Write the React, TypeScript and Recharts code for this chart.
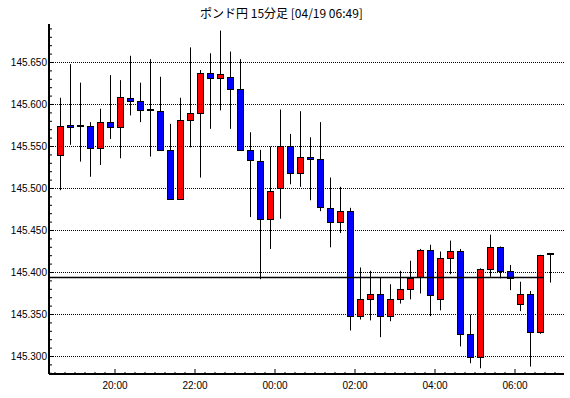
import React from "react";
import { ComposedChart, Bar, XAxis, YAxis, ReferenceLine } from "recharts";

// 15分足 18:30 - 06:45
const times = [
  "18:30", "18:45", "19:00", "19:15", "19:30", "19:45",
  "20:00", "20:15", "20:30", "20:45", "21:00", "21:15", "21:30", "21:45",
  "22:00", "22:15", "22:30", "22:45", "23:00", "23:15", "23:30", "23:45",
  "00:00", "00:15", "00:30", "00:45", "01:00", "01:15", "01:30", "01:45",
  "02:00", "02:15", "02:30", "02:45", "03:00", "03:15", "03:30", "03:45",
  "04:00", "04:15", "04:30", "04:45", "05:00", "05:15", "05:30", "05:45",
  "06:00", "06:15", "06:30", "06:45",
];

const opens = [
  145.540, 145.575, 145.574, 145.574, 145.548, 145.579, 145.573, 145.608, 145.604, 145.593,
  145.592, 145.546, 145.487, 145.581, 145.590, 145.638, 145.631, 145.633, 145.618, 145.546,
  145.533, 145.464, 145.500, 145.550, 145.518, 145.538, 145.535, 145.477, 145.460, 145.473,
  145.348, 145.368, 145.375, 145.348, 145.368, 145.380, 145.395, 145.427, 145.369, 145.417,
  145.426, 145.327, 145.299, 145.404, 145.430, 145.402, 145.362, 145.375, 145.329, 145.422,
];
const highs = [
  145.608, 145.648, 145.626, 145.579, 145.595, 145.635, 145.629, 145.658, 145.626, 145.654,
  145.633, 145.577, 145.608, 145.668, 145.641, 145.661, 145.688, 145.663, 145.654, 145.567,
  145.546, 145.550, 145.594, 145.565, 145.592, 145.561, 145.579, 145.513, 145.502, 145.477,
  145.406, 145.402, 145.394, 145.386, 145.402, 145.414, 145.428, 145.433, 145.425, 145.438,
  145.428, 145.350, 145.405, 145.445, 145.431, 145.409, 145.389, 145.378, 145.421, 145.423,
];
const lows = [
  145.498, 145.552, 145.532, 145.514, 145.528, 145.559, 145.536, 145.587, 145.579, 145.538,
  145.546, 145.487, 145.487, 145.549, 145.513, 145.571, 145.593, 145.571, 145.546, 145.466,
  145.392, 145.428, 145.464, 145.505, 145.502, 145.486, 145.473, 145.430, 145.447, 145.331,
  145.344, 145.343, 145.323, 145.342, 145.363, 145.368, 145.375, 145.348, 145.355, 145.398,
  145.312, 145.292, 145.286, 145.395, 145.393, 145.379, 145.354, 145.288, 145.327, 145.388,
];
const closes = [
  145.574, 145.573, 145.574, 145.548, 145.579, 145.573, 145.609, 145.604, 145.593, 145.593,
  145.546, 145.487, 145.581, 145.590, 145.638, 145.631, 145.636, 145.618, 145.546, 145.534,
  145.464, 145.497, 145.550, 145.518, 145.538, 145.535, 145.478, 145.460, 145.473, 145.348,
  145.368, 145.375, 145.348, 145.368, 145.380, 145.394, 145.427, 145.373, 145.417, 145.426,
  145.327, 145.299, 145.404, 145.430, 145.402, 145.394, 145.375, 145.329, 145.421, 145.422,
];

const majorYTicks = [145.3, 145.35, 145.4, 145.45, 145.5, 145.55, 145.6, 145.65];
const majorXLabels = ["20:00", "22:00", "00:00", "02:00", "04:00", "06:00"];

const refPrice = 145.394;
const refLineEnd = "06:43";

const START = 18 * 60 + 30;
const toMin = (s: string) => {
  const [h, m] = s.split(":").map(Number);
  return (h * 60 + m - START + 1440) % 1440;
};
const fmtMin = (m: number) => {
  const t = (START + m) % 1440;
  return `${String(Math.floor(t / 60)).padStart(2, "0")}:${String(t % 60).padStart(2, "0")}`;
};

const data = times.map((t, i) => ({
  t: toMin(t) + 7.5,
  open: opens[i],
  high: highs[i],
  low: lows[i],
  close: closes[i],
  range: [lows[i], highs[i]],
}));

const xDomain = [-9, 763.5];
const yDomain = [145.27917, 145.69583];
const xTicks = Array.from({ length: 51 }, (_, i) => i * 15);
const yTicks = Array.from({ length: 42 }, (_, i) => (14528 + i) / 100);
const majorXMins = majorXLabels.map(toMin);

const isMajorY = (v: number) => Math.round(v * 1000) % 50 === 0;
const FONT = "'Liberation Sans', Arial, sans-serif";

function Candle(props: any) {
  const { x, y, width, height, payload } = props;
  if (x == null || !payload) return null;
  const { open, high, low, close } = payload;
  const k = height / (high - low);
  const py = (v: number) => y + (high - v) * k;
  const cx = Math.floor(x + width / 2) + 0.5;
  const bx = Math.round(x) + 0.5;
  const top = Math.round(py(Math.max(open, close))) + 0.5;
  const bot = Math.round(py(Math.min(open, close))) + 0.5;
  const color = close > open ? "#ff0000" : "#0000ff";
  return (
    <g>
      <line x1={cx} x2={cx} y1={y} y2={y + height} stroke="#000" strokeWidth={1} />
      {open === close ? (
        <rect x={bx - 0.5} y={top - 1.5} width={width + 1} height={2} fill="#000" />
      ) : (
        <rect
          x={bx}
          y={top}
          width={width}
          height={Math.max(bot - top, 1)}
          fill={color}
          stroke="#000"
          strokeWidth={1}
        />
      )}
    </g>
  );
}

function LeftTick({ x, y, payload }: any) {
  const major = isMajorY(payload.value);
  return (
    <g>
      <line x1={x} x2={x + (major ? 5 : 3)} y1={y} y2={y} stroke="#000" />
      {major && (
        <text x={x - 2} y={y} dy="0.35em" textAnchor="end" fontSize={10} fontFamily={FONT} fill="#000">
          {payload.value.toFixed(3)}
        </text>
      )}
    </g>
  );
}

function RightTick({ x, y, payload }: any) {
  const major = isMajorY(payload.value);
  return <line x1={x} x2={x - (major ? 5 : 3)} y1={y} y2={y} stroke="#000" />;
}

function BottomTick({ x, y, payload }: any) {
  const major = majorXMins.includes(payload.value);
  return (
    <g>
      <line x1={x} x2={x} y1={y} y2={y - (major ? 5 : 2)} stroke="#000" />
      {major && (
        <text x={x} y={y + 11} dy="0.35em" textAnchor="middle" fontSize={10} fontFamily={FONT} fill="#000">
          {fmtMin(payload.value)}
        </text>
      )}
    </g>
  );
}

function TopTick({ x, y, payload }: any) {
  const major = majorXMins.includes(payload.value);
  return <line x1={x} x2={x} y1={y} y2={y + (major ? 5 : 3)} stroke="#000" />;
}

const frame = { stroke: "#000", strokeWidth: 2 };

export default function App() {
  return (
    <div style={{ position: "absolute", left: 0, top: 0, width: 570, height: 398, background: "#fff" }}>
      <div
        style={{
          position: "absolute",
          left: 0,
          top: 5,
          width: 563,
          lineHeight: "16px",
          textAlign: "center",
          fontSize: 12,
          fontFamily: "'Noto Sans CJK JP', sans-serif",
          color: "#000",
        }}
      >
        ポンド円 15分足 [04/19 06:49]
      </div>
      <ComposedChart
        width={570}
        height={398}
        data={data}
        margin={{ top: 24, right: 6, bottom: 0, left: 0 }}
      >
        <XAxis
          xAxisId="b"
          dataKey="t"
          type="number"
          orientation="bottom"
          domain={xDomain}
          allowDataOverflow
          ticks={xTicks}
          interval={0}
          height={24}
          tickSize={0}
          tickMargin={0}
          tickLine={false}
          axisLine={frame}
          tick={(p: any) => <BottomTick {...p} />}
        />
        <XAxis
          xAxisId="t"
          dataKey="t"
          type="number"
          orientation="top"
          domain={xDomain}
          allowDataOverflow
          ticks={xTicks}
          interval={0}
          height={0}
          tickSize={0}
          tickMargin={0}
          tickLine={false}
          axisLine={frame}
          tick={(p: any) => <TopTick {...p} />}
        />
        <YAxis
          yAxisId="l"
          type="number"
          domain={yDomain}
          allowDataOverflow
          ticks={yTicks}
          interval={0}
          width={49}
          tickSize={0}
          tickMargin={0}
          tickLine={false}
          axisLine={frame}
          tick={(p: any) => <LeftTick {...p} />}
        />
        <YAxis
          yAxisId="r"
          orientation="right"
          type="number"
          domain={yDomain}
          allowDataOverflow
          ticks={yTicks}
          interval={0}
          width={0}
          tickSize={0}
          tickMargin={0}
          tickLine={false}
          axisLine={frame}
          tick={(p: any) => <RightTick {...p} />}
        />
        {majorYTicks.map((v) => (
          <ReferenceLine
            key={v}
            xAxisId="b"
            yAxisId="l"
            y={v}
            stroke="#000"
            strokeWidth={1}
            strokeDasharray="1 1"
          />
        ))}
        <ReferenceLine
          xAxisId="b"
          yAxisId="l"
          segment={[
            { x: xDomain[0], y: refPrice },
            { x: toMin(refLineEnd), y: refPrice },
          ]}
          stroke="#000"
          strokeWidth={1.5}
        />
        <Bar
          xAxisId="b"
          yAxisId="l"
          dataKey="range"
          barSize={6}
          shape={(p: any) => <Candle {...p} />}
          isAnimationActive={false}
        />
      </ComposedChart>
    </div>
  );
}
